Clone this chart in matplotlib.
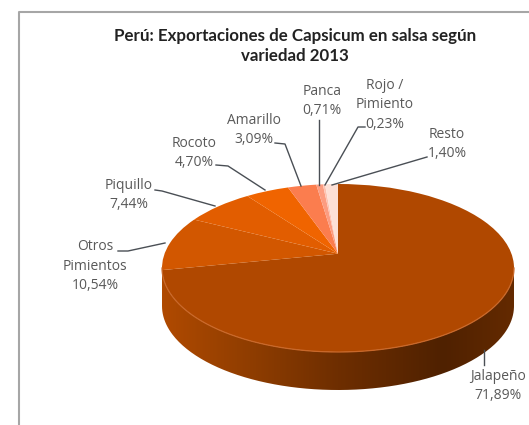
import matplotlib
matplotlib.use("Agg")
import matplotlib.pyplot as plt
import numpy as np
from matplotlib.colors import LinearSegmentedColormap
from matplotlib.lines import Line2D
from matplotlib.patches import PathPatch
from matplotlib.path import Path
from matplotlib.transforms import Transform

W, H = 529, 425

categories = ["Jalapeño", "Otros\nPimientos", "Piquillo", "Rocoto",
              "Amarillo", "Panca", "Rojo /\nPimiento", "Resto"]
values = [71.89, 10.54, 7.44, 4.70, 3.09, 0.71, 0.23, 1.40]
top_colors = ["#b04800", "#d25700", "#e25d00", "#f06400",
              "#fb7d4e", "#fc9c80", "#fdc2b0", "#fde0d6"]

# pixel layout of the pie ellipse
cx, cy, rx, ry, depth = 338, 268, 176, 84, 38
tilt = 0.17  # how far the pie centre moves towards the back

plt.rcParams["font.family"] = ["Open Sans", "DejaVu Sans"]


class Perspective(Transform):
    # keeps the unit circle, moves its centre up, so back slices look narrower
    input_dims = 2
    output_dims = 2

    def transform_non_affine(self, xy):
        xy = np.asarray(xy)
        d = 1 + tilt * xy[:, 1]
        return np.column_stack([xy[:, 0] * np.sqrt(1 - tilt ** 2) / d, (xy[:, 1] + tilt) / d])


fig = plt.figure(figsize=(W / 100, H / 100), dpi=100)
ax = fig.add_axes([0, 0, 1, 1])


def px(x, y):
    return x / W, 1 - y / H


# chart frame, only top and left show
fig.add_artist(Line2D([19 / W, 19 / W, 1], [0, 1 - 12 / H, 1 - 12 / H], color="#a6a6a6", lw=1.5))

wedges, _ = ax.pie(values, colors=top_colors, startangle=90, counterclock=False, frame=True)
for w in wedges:
    w.set_transform(Perspective() + ax.transData)
    w.set_zorder(3)

ax.set_aspect("auto")
ax.axis("off")

# side wall of the pie, gradient clipped to the lower rim
t = np.linspace(np.pi, 2 * np.pi, 200)
d = depth / ry
wall_x = np.r_[np.cos(t), np.cos(t[::-1])]
wall_y = np.r_[np.sin(t) - d, np.sin(t[::-1])]
wall = PathPatch(Path(np.column_stack([wall_x, wall_y])), transform=ax.transData, fc="none", ec="none")
ax.add_patch(wall)
wall_cmap = LinearSegmentedColormap.from_list(
    "wall", [(0, "#b04a00"), (0.25, "#8f3d00"), (0.5, "#6e2e00"), (0.8, "#4f2100"), (1, "#642a00")])
img = ax.imshow(np.linspace(0, 1, 256).reshape(1, -1), cmap=wall_cmap, extent=(-1, 1, -1 - d, 0),
                aspect="auto", zorder=2)
img.set_clip_path(wall)
# lighter rim where top face meets the wall
ax.plot(np.cos(t), np.sin(t), color="#c9682a", lw=0.9, zorder=4)
ax.set_xlim(-cx / rx, (W - cx) / rx)
ax.set_ylim((cy - H) / ry, cy / ry)

title = "Perú: Exportaciones de Capsicum en salsa según\nvariedad 2013"
x, y = px(295, 46)
fig.text(x, y, title, ha="center", va="center", fontsize=12.2, fontweight="bold",
         family=["Lato", "DejaVu Sans"], color="#222222", linespacing=1.3)

pct = [f"{v:.2f}%".replace(".", ",") for v in values]
label_pos = [(498, 386), (95, 266), (129, 195), (194, 153),
             (254, 130), (322, 101), (385, 105), (447, 144)]
for name, p, (lx, ly) in zip(categories, pct, label_pos):
    x, y = px(lx, ly)
    fig.text(x, y, name + "\n" + p, ha="center", va="center", fontsize=10,
             color="#595959", linespacing=1.4)

leaders = [
    [(484, 350), (484, 365)],
    [(118, 251), (128, 251), (165, 243)],
    [(155, 190), (162, 191), (215, 206)],
    [(216, 165), (228, 166), (265, 190)],
    [(275, 143), (285, 144), (301, 186)],
    [(319, 120), (319, 185)],
    [(365, 127), (358, 127), (325, 185)],
    [(427, 157), (332, 185)],
]
for pts in leaders:
    xs, ys = zip(*[px(a, b) for a, b in pts])
    fig.add_artist(Line2D(xs, ys, color="#4a4f55", lw=1.0))

fig.savefig("out.png", dpi=100)
